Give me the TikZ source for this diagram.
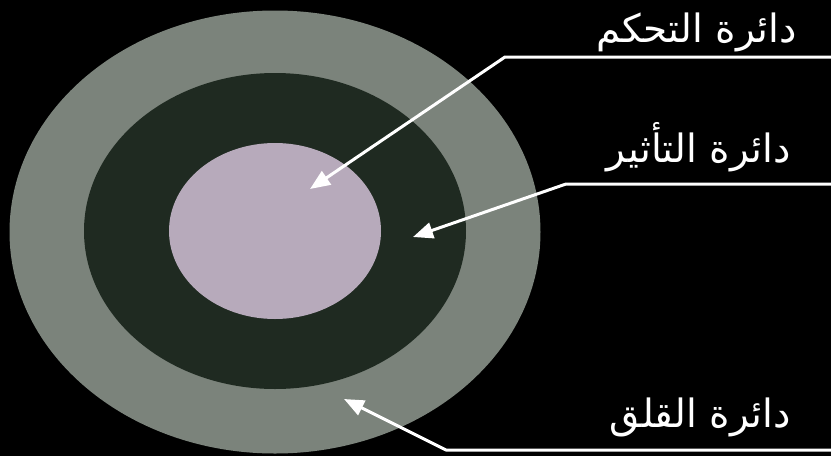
\documentclass[tikz,border=0pt]{standalone}
\usepackage{fontspec}
\newfontfamily\arabicfont[Script=Arabic]{DejaVu Sans}
\TeXXeTstate=1
\usetikzlibrary{arrows.meta,shapes.geometric}
\definecolor{outerc}{RGB}{123,131,123}
\definecolor{midc}{RGB}{31,42,33}
\definecolor{innerc}{RGB}{183,170,187}
\tikzset{
  ring/.style={ellipse, inner sep=0pt, draw=none},
  lbl/.style={text=white, font=\arabicfont\fontsize{39}{42}\selectfont, inner sep=0pt, anchor=base east},
  conn/.style={draw=white, line width=3pt, -{Triangle[length=20pt,width=16pt]}, line join=round}
}
\begin{document}
\begin{tikzpicture}[x=1pt,y=-1pt]
\fill[black] (0,0) rectangle (831,456);
\useasboundingbox (0,0) rectangle (831,456);
\node[ring, fill=outerc, minimum width=531pt, minimum height=443pt] (outer) at (275,232) {};
\node[ring, fill=midc, minimum width=382pt, minimum height=316pt] (mid) at (275,231) {};
\node[ring, fill=innerc, minimum width=212pt, minimum height=176pt] (inner) at (275,231) {};
\node[lbl] (l1) at (797,42) {\beginR دائرة التحكم\endR};
\node[lbl] (l2) at (791,162) {\beginR دائرة التأثير\endR};
\node[lbl] (l3) at (791,427) {\beginR دائرة القلق\endR};
\coordinate (e1) at (831,57);
\coordinate (c1) at (505,57);
\coordinate (t1) at (310,189);
\coordinate (e2) at (831,184);
\coordinate (c2) at (566,184);
\coordinate (t2) at (413,237);
\coordinate (e3) at (831,450);
\coordinate (c3) at (446,450);
\coordinate (t3) at (344,399);
\draw[conn] (e1) -- (c1) -- (t1);
\draw[conn] (e2) -- (c2) -- (t2);
\draw[conn] (e3) -- (c3) -- (t3);
\end{tikzpicture}
\end{document}
